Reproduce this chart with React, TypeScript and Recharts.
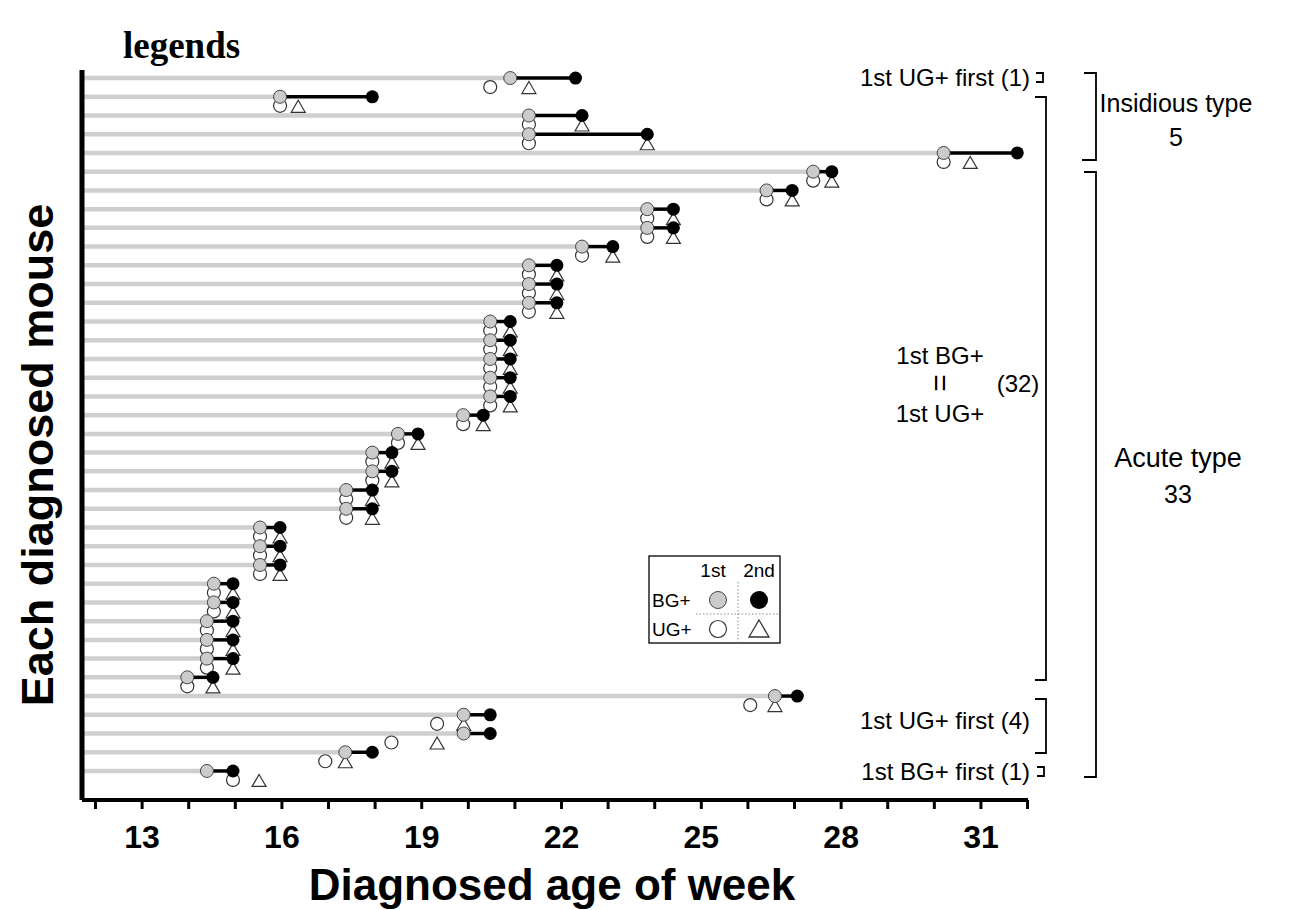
import React from 'react';
import { ScatterChart, Scatter, XAxis, YAxis, ReferenceLine } from 'recharts';

// week values per diagnosed mouse, top row first
const firstBG = [20.9, 15.96, 21.3, 21.3, 30.2, 27.4, 26.4, 23.84, 23.84, 22.44, 21.3, 21.3, 21.3, 20.47, 20.47, 20.47, 20.47, 20.47, 19.89, 18.49, 17.94, 17.94, 17.38, 17.38, 15.53, 15.53, 15.53, 14.54, 14.54, 14.39, 14.39, 14.39, 13.97, 26.58, 19.9, 19.9, 17.36, 14.39];
const secondBG = [22.3, 17.94, 22.44, 23.84, 31.78, 27.8, 26.95, 24.4, 24.4, 23.1, 21.9, 21.9, 21.9, 20.9, 20.9, 20.9, 20.9, 20.9, 20.32, 18.92, 18.36, 18.36, 17.94, 17.94, 15.96, 15.96, 15.96, 14.95, 14.95, 14.95, 14.95, 14.95, 14.52, 27.06, 20.47, 20.47, 17.94, 14.95];
const firstUG = [20.47, 15.96, 21.3, 21.3, 30.2, 27.4, 26.4, 23.84, 23.84, 22.44, 21.3, 21.3, 21.3, 20.47, 20.47, 20.47, 20.47, 20.47, 19.89, 18.49, 17.94, 17.94, 17.38, 17.38, 15.53, 15.53, 15.53, 14.54, 14.54, 14.39, 14.39, 14.39, 13.97, 26.05, 19.33, 18.35, 16.93, 14.95];
const secondUG = [21.3, 16.35, 22.44, 23.84, 30.77, 27.8, 26.95, 24.4, 24.4, 23.1, 21.9, 21.9, 21.9, 20.9, 20.9, 20.9, 20.9, 20.9, 20.32, 18.92, 18.36, 18.36, 17.94, 17.94, 15.96, 15.96, 15.96, 14.95, 14.95, 14.95, 14.95, 14.95, 14.52, 26.58, 19.9, 19.33, 17.36, 15.51];

const weekTicks = [12, 13, 14, 15, 16, 17, 18, 19, 20, 21, 22, 23, 24, 25, 26, 27, 28, 29, 30, 31, 32];
const labelTicks = [13, 16, 19, 22, 25, 28, 31];

const X_MIN = 11.71;
const X_MAX = 32.01;
const Y_MIN = 0.57;
const Y_MAX = 39.55;

const SANS = 'Arial, "Liberation Sans", sans-serif';
const UG_OFFSET = 9;

const toPoints = (vals: number[]) => vals.map((x, i) => ({ x, y: i + 1 }));

const GrayDot = (p: any) => <circle cx={p.cx} cy={p.cy} r={6.5} fill="#cbcbcb" stroke="#444" strokeWidth={1} />;
const BlackDot = (p: any) => <circle cx={p.cx} cy={p.cy} r={6.5} fill="#000" />;
const WhiteDot = (p: any) => (
  <circle cx={p.cx} cy={p.cy + UG_OFFSET} r={6.5} fill="#fff" stroke="#333" strokeWidth={1.2} />
);
const Triangle = (p: any) => {
  const cx = p.cx;
  const cy = p.cy + UG_OFFSET + 1;
  return <path d={`M${cx},${cy - 6.5} L${cx + 7},${cy + 5.5} L${cx - 7},${cy + 5.5} Z`} fill="#fff" stroke="#333" strokeWidth={1.2} />;
};

const Overlay = () => (
  <svg width={1301} height={910} style={{ position: 'absolute', left: 0, top: 0, pointerEvents: 'none' }}>
    <text x={123} y={58} fontFamily='"Times New Roman", "Liberation Serif", serif' fontWeight="bold" fontSize={37}>legends</text>

    <text transform="translate(53,455) rotate(-90)" textAnchor="middle" fontFamily={SANS} fontWeight="bold" fontSize={45}>Each diagnosed mouse</text>
    <text x={552} y={900} textAnchor="middle" fontFamily={SANS} fontWeight="bold" fontSize={44}>Diagnosed age of week</text>

    {/* right side group labels */}
    <g fontFamily={SANS} fontSize={24} fill="#000">
      <text x={1030} y={86} textAnchor="end">1st UG+ first (1)</text>
      <text x={940} y={364} textAnchor="middle">1st BG+</text>
      <text transform="translate(940,383) rotate(90)" textAnchor="middle" dy="0.35em" fontSize={30}>=</text>
      <text x={1018} y={392} textAnchor="middle">(32)</text>
      <text x={940} y={422} textAnchor="middle">1st UG+</text>
      <text x={1030} y={729} textAnchor="end">1st UG+ first (4)</text>
      <text x={1030} y={780} textAnchor="end">1st BG+ first (1)</text>
    </g>
    <g fontFamily={SANS} fontSize={25} fill="#000" textAnchor="middle">
      <text x={1176} y={112}>Insidious type</text>
      <text x={1176} y={146}>5</text>
      <text x={1178} y={467} fontSize={27}>Acute type</text>
      <text x={1178} y={503}>33</text>
    </g>
    <g stroke="#000" strokeWidth={1.8} fill="none">
      <path d="M1036,73 H1043 V82 H1036" />
      <path d="M1035,97 H1046 V680 H1035" />
      <path d="M1035,699 H1046 V753 H1035" />
      <path d="M1037,767 H1044 V776 H1037" />
      <path d="M1084,73 H1096 V160 H1082" />
      <path d="M1084,172 H1096 V777 H1084" />
    </g>

    {/* symbol key */}
    <g>
      <rect x={649} y={556} width={131} height={87} fill="#fff" stroke="#000" strokeWidth={1.3} />
      <line x1={738} y1={582} x2={738} y2={643} stroke="#888" strokeDasharray="1.5 2" />
      <line x1={696} y1={614} x2={780} y2={614} stroke="#888" strokeDasharray="1.5 2" />
      <g fontFamily={SANS} fontSize={19} fill="#000">
        <text x={713} y={577} textAnchor="middle">1st</text>
        <text x={759} y={577} textAnchor="middle">2nd</text>
        <text x={652} y={607}>BG+</text>
        <text x={652} y={636}>UG+</text>
      </g>
      <circle cx={718} cy={600} r={8.5} fill="#cbcbcb" stroke="#444" strokeWidth={1} />
      <circle cx={759} cy={600} r={9} fill="#000" />
      <circle cx={718} cy={629} r={8.5} fill="#fff" stroke="#333" strokeWidth={1.2} />
      <path d="M759,620 L769,637 L749,637 Z" fill="#fff" stroke="#333" strokeWidth={1.3} />
    </g>
  </svg>
);

export default function App() {
  return (
    <div style={{ position: 'absolute', left: 0, top: 0, width: 1301, height: 910, background: '#fff' }}>
      <ScatterChart width={1301} height={910} margin={{ top: 70, right: 273, bottom: 50, left: 82 }}>
        <XAxis
          type="number"
          dataKey="x"
          domain={[X_MIN, X_MAX]}
          allowDataOverflow
          ticks={weekTicks}
          interval={0}
          tickFormatter={(v: number) => (labelTicks.includes(v) ? String(v) : '')}
          height={60}
          tickSize={9}
          tickMargin={16}
          axisLine={{ stroke: '#000', strokeWidth: 4 }}
          tickLine={{ stroke: '#000', strokeWidth: 3 }}
          tick={{ fill: '#000', fontSize: 32, fontWeight: 'bold', fontFamily: SANS }}
        />
        <YAxis type="number" dataKey="y" domain={[Y_MIN, Y_MAX]} allowDataOverflow reversed width={0} hide />
        {firstBG.map((v, i) => (
          <ReferenceLine
            key={`g${i}`}
            segment={[{ x: X_MIN, y: i + 1 }, { x: v, y: i + 1 }]}
            stroke="#cfcfcf"
            strokeWidth={4.5}
          />
        ))}
        {firstBG.map((v, i) => (
          <ReferenceLine
            key={`b${i}`}
            segment={[{ x: v, y: i + 1 }, { x: secondBG[i], y: i + 1 }]}
            stroke="#000"
            strokeWidth={3.5}
          />
        ))}
        {/* y axis line */}
        <ReferenceLine
          segment={[{ x: X_MIN, y: Y_MIN }, { x: X_MIN, y: Y_MAX }]}
          stroke="#000"
          strokeWidth={5}
        />
        <Scatter data={toPoints(firstUG)} shape={WhiteDot} isAnimationActive={false} />
        <Scatter data={toPoints(secondUG)} shape={Triangle} isAnimationActive={false} />
        <Scatter data={toPoints(firstBG)} shape={GrayDot} isAnimationActive={false} />
        <Scatter data={toPoints(secondBG)} shape={BlackDot} isAnimationActive={false} />
      </ScatterChart>
      <Overlay />
    </div>
  );
}
